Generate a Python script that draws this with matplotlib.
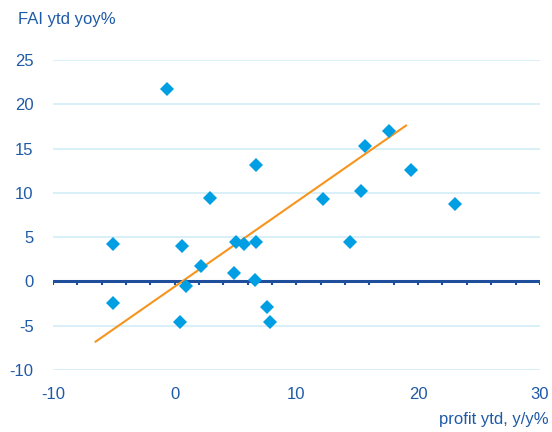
import matplotlib
matplotlib.use("Agg")
import matplotlib.pyplot as plt
import numpy as np

plt.rcParams['font.family'] = ['Liberation Sans', 'DejaVu Sans']
plt.rcParams['axes.unicode_minus'] = False

# profit ytd y/y% vs FAI ytd yoy%
profit = [-0.6, 2.9, 6.7, -5.1, -5.1, 0.6, 0.9, 0.4, 2.2, 5.0, 5.7, 6.7,
          4.9, 6.6, 7.6, 7.8, 12.2, 14.4, 15.3, 15.6, 17.6, 19.4, 23.0]
fai = [21.7, 9.4, 13.2, 4.2, -2.4, 4.0, -0.5, -4.6, 1.8, 4.4, 4.2, 4.4,
       0.9, 0.2, -2.9, -4.6, 9.3, 4.4, 10.2, 15.3, 17.0, 12.6, 8.7]

# fitted trend line end points
trend_x = [-6.5, 19.0]
trend_y = [-6.8, 17.6]

xticks = [-10, 0, 10, 20, 30]
yticks = [-10, -5, 0, 5, 10, 15, 20, 25]

text_blue = '#1f5aa6'
axis_blue = '#1f4e9c'
marker_blue = '#009ee2'
grid_blue = '#d3edf8'
orange = '#f7941d'

fig = plt.figure(figsize=(5.52, 4.32), dpi=100)
ax = fig.add_axes([0.096, 0.1435, 0.882, 0.7175])

for y in yticks:
    if y != 0:
        ax.axhline(y, color=grid_blue, lw=1.2, zorder=1)

ax.axhline(0, color=axis_blue, lw=2.2, zorder=2)
for t in np.arange(-10, 31, 2):
    ax.plot([t, t], [0, -0.45], color=axis_blue, lw=1.5, zorder=2,
            solid_capstyle='butt')

ax.plot(trend_x, trend_y, color=orange, lw=1.5, zorder=3)
ax.plot(profit, fai, linestyle='none', marker='D', ms=7,
        color=marker_blue, markeredgewidth=0, zorder=4)

ax.set_xlim(-10, 30)
ax.set_ylim(-10, 25)
ax.set_xticks(xticks)
ax.set_yticks(yticks)
ax.tick_params(axis='both', length=0, labelsize=12, labelcolor=text_blue)
ax.tick_params(axis='x', pad=12)
ax.tick_params(axis='y', pad=14)
for s in ax.spines.values():
    s.set_visible(False)

fig.text(0.032, 0.955, 'FAI ytd yoy%', fontsize=12, color=text_blue,
         ha='left', va='center')
fig.text(0.993, 0.028, 'profit ytd, y/y%', fontsize=12, color=text_blue,
         ha='right', va='center')

fig.savefig('out.png', dpi=100)
